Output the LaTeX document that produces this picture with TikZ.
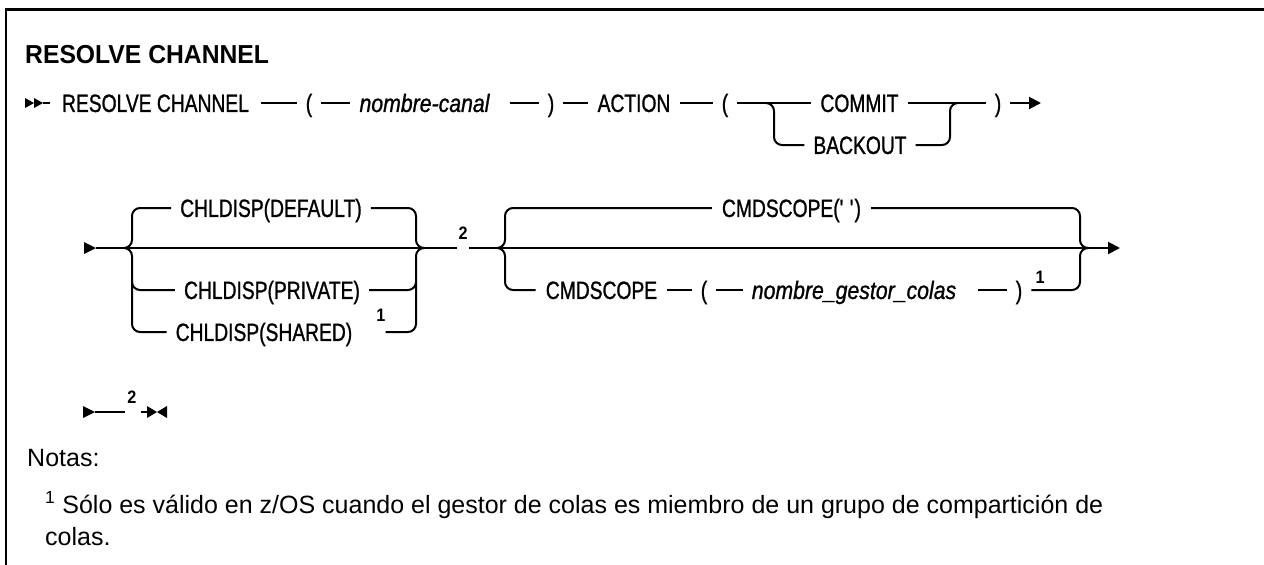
\documentclass[tikz,border=0pt]{standalone}
\usepackage{fontspec}
\setmainfont{Liberation Sans}
\newfontfamily\condfont[FakeStretch=0.77,FakeBold=1.0]{Liberation Sans}
\newfontfamily\conditfont[FakeStretch=0.85,FakeBold=1.0]{Liberation Sans}
\newfontfamily\supfont[FakeStretch=0.90]{Liberation Sans}
\newfontfamily\titlefont[FakeStretch=0.95]{Liberation Sans}
\usetikzlibrary{arrows.meta,calc}
\begin{document}
\begin{tikzpicture}[x=1pt,y=-1pt,
  ln/.style={line width=2pt},
  br/.style={line width=2pt, rounded corners=8pt},
  syn/.style={inner sep=0pt, text height=17.9pt, text depth=0pt, font=\condfont\fontsize{25pt}{29pt}\selectfont},
  syni/.style={inner sep=0pt, text height=17.9pt, text depth=0pt, font=\conditfont\itshape\fontsize{25pt}{29pt}\selectfont},
  supn/.style={inner sep=0pt, anchor=base, font=\supfont\bfseries\fontsize{18pt}{20pt}\selectfont},
  note/.style={inner sep=0pt, anchor=base west, font=\fontsize{25pt}{29pt}\selectfont},
  tip/.style={-{Triangle[length=12pt,width=12pt]}}]
\useasboundingbox (0,0) rectangle (1264,565);
% frame
\draw[line width=2.5pt] (6,565) -- (6,9.5) -- (1264,9.5);
% title
\node[inner sep=0pt, anchor=base west, font=\titlefont\bfseries\fontsize{26pt}{30pt}\selectfont] (title) at (25,63) {RESOLVE CHANNEL};
% ---------- row 1
\fill (25,98) -- (34,103) -- (25,108) -- cycle;
\fill (34,98) -- (43,103) -- (34,108) -- cycle;
\coordinate (a0) at (43,103);
\node[syn] (rc) at (155.5,103) {RESOLVE CHANNEL};
\draw[ln] (a0) -- ([xshift=-12pt]rc.west);
\node[syn] (lp1) at (309,103) {(};
\draw[ln] ([xshift=12pt]rc.east) -- ([xshift=-9pt]lp1.west);
\node[syni] (nc) at (424.5,103) {nombre-canal};
\draw[ln] ([xshift=9pt]lp1.east) -- ([xshift=-9pt]nc.west);
\node[syn] (rp1) at (551,103) {)};
\draw[ln] ([xshift=20pt]nc.east) -- ([xshift=-9pt]rp1.west);
\node[syn] (act) at (634,103) {ACTION};
\draw[ln] ([xshift=9pt]rp1.east) -- ([xshift=-9pt]act.west);
\node[syn] (lp2) at (725,103) {(};
\draw[ln] ([xshift=9pt]act.east) -- ([xshift=-9pt]lp2.west);
\node[syn] (commit) at (859.5,103) {COMMIT};
\draw[ln] ([xshift=9pt]lp2.east) -- ([xshift=-9pt]commit.west);
\node[syn] (rp2) at (998,103) {)};
\draw[ln] ([xshift=9pt]commit.east) -- ([xshift=-9pt]rp2.west);
\coordinate (e1) at (1041,103);
\draw[ln,tip] ([xshift=9pt]rp2.east) -- (e1);
\node[syn] (backout) at (860,145) {BACKOUT};
\coordinate (L0) at (774,103);
\coordinate (R0) at (950,103);
\draw[br] ([xshift=-8pt]L0) -- (L0) -- (L0 |- backout) -- ([xshift=-9pt]backout.west);
\draw[br] ([xshift=9pt]backout.east) -- (R0 |- backout) -- (R0) -- ([xshift=8pt]R0);
% ---------- row 2
\fill (84,242) -- (96,248) -- (84,254) -- cycle;
\coordinate (s2) at (96,248);
\coordinate (L1) at (132,248);
\coordinate (R1) at (416,248);
\coordinate (g1) at (457,248);
\coordinate (g2) at (469,248);
\coordinate (L2) at (505,248);
\coordinate (R2) at (1080,248);
\coordinate (e2) at (1120,248);
\draw[ln] (s2) -- (g1);
\draw[ln,tip] (g2) -- (e2);
\node[supn] (n2a) at (463,239) {2};
\node[syn] (def) at (271,208) {CHLDISP(DEFAULT)};
\node[syn] (priv) at (272,290) {CHLDISP(PRIVATE)};
\node[syn] (shr) at (264,332) {CHLDISP(SHARED)};
\node[supn] (n1a) at (381,321) {1};
\draw[br] ([xshift=-8pt]L1) -- (L1) -- (L1 |- def) -- ([xshift=-9pt]def.west);
\draw[br] ([xshift=-8pt]L1) -- (L1) -- (L1 |- shr) -- ([xshift=-9pt]shr.west);
\draw[br] ($(L1 |- priv)+(0,-8)$) -- (L1 |- priv) -- ([xshift=-9pt]priv.west);
\draw[br] ([xshift=9pt]def.east) -- (R1 |- def) -- (R1) -- ([xshift=8pt]R1);
\draw[br] ([xshift=9pt]priv.east) -- (R1 |- priv) -- ($(R1 |- priv)+(0,-8)$);
\draw[br] (n1a.east |- shr) -- (R1 |- shr) -- (R1) -- ([xshift=8pt]R1);
\node[syn] (cs1) at (791.5,208) {CMDSCOPE(\textquotesingle\ \textquotesingle)};
\draw[br] ([xshift=-8pt]L2) -- (L2) -- (L2 |- cs1) -- ([xshift=-10pt]cs1.west);
\draw[br] ([xshift=10pt]cs1.east) -- (R2 |- cs1) -- (R2) -- ([xshift=8pt]R2);
\node[syn] (cmd) at (601.5,290) {CMDSCOPE};
\draw[br] ([xshift=-8pt]L2) -- (L2) -- (L2 |- cmd) -- ([xshift=-10pt]cmd.west);
\node[syn] (lp3) at (704,290) {(};
\draw[ln] ([xshift=10pt]cmd.east) -- ([xshift=-9pt]lp3.west);
\node[syni] (nq) at (854,290) {nombre\_gestor\_colas};
\draw[ln] ([xshift=9pt]lp3.east) -- ([xshift=-9pt]nq.west);
\node[syn] (rp3) at (1019,290) {)};
\draw[ln] ([xshift=22pt]nq.east) -- ([xshift=-9pt]rp3.west);
\node[supn] (n1b) at (1040,283) {1};
\draw[br] ([xshift=9pt]rp3.east) -- (R2 |- rp3) -- (R2) -- ([xshift=8pt]R2);
% ---------- row 3
\fill (83,406) -- (95,412) -- (83,418) -- cycle;
\coordinate (s3) at (95,412);
\coordinate (t3) at (125,412);
\draw[ln] (s3) -- (t3);
\node[supn] (n2b) at (132,403) {2};
\coordinate (u3) at (141,412);
\coordinate (v3) at (148,412);
\draw[ln] (u3) -- (v3);
\fill (147,406) -- (157,412) -- (147,418) -- cycle;
\fill (167,406) -- (157,412) -- (167,418) -- cycle;
% ---------- notes
\node[note] (notas) at (27,466) {Notas:};
\node[note] (fn1) at (45,513) {\textsuperscript{1} Sólo es válido en z/OS cuando el gestor de colas es miembro de un grupo de compartición de};
\node[note] (fn2) at (45,545) {colas.};
\end{tikzpicture}
\end{document}
